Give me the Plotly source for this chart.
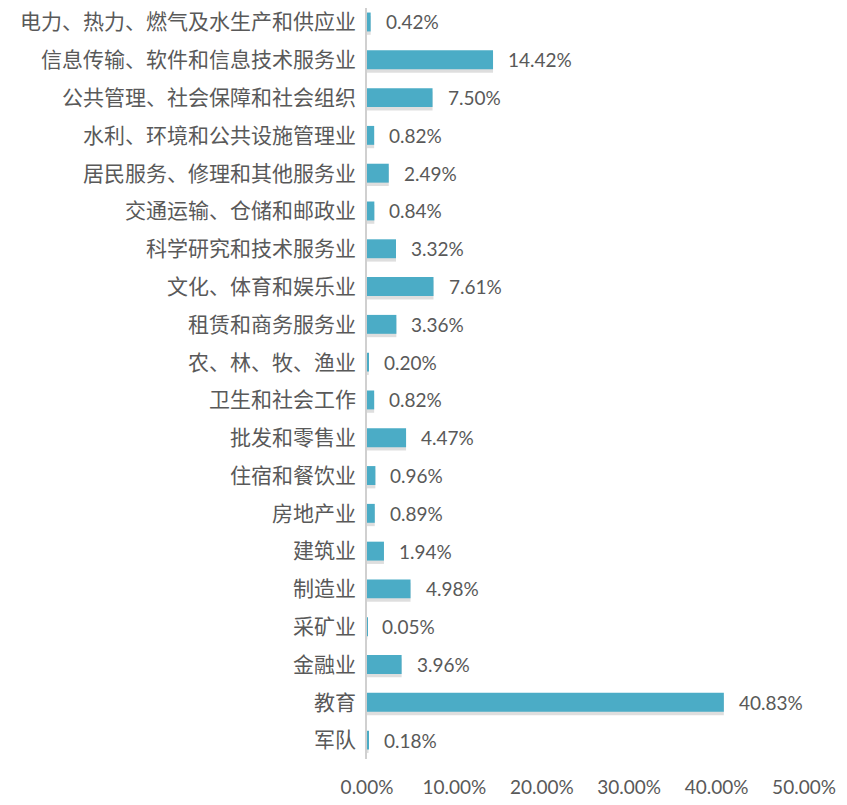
import plotly.graph_objects as go

# categories listed bottom -> top (plotly draws first category at the bottom)
industries = [
    "军队", "教育", "金融业", "采矿业", "制造业", "建筑业", "房地产业",
    "住宿和餐饮业", "批发和零售业", "卫生和社会工作", "农、林、牧、渔业",
    "租赁和商务服务业", "文化、体育和娱乐业", "科学研究和技术服务业",
    "交通运输、仓储和邮政业", "居民服务、修理和其他服务业",
    "水利、环境和公共设施管理业", "公共管理、社会保障和社会组织",
    "信息传输、软件和信息技术服务业", "电力、热力、燃气及水生产和供应业",
]
shares = [
    0.18, 40.83, 3.96, 0.05, 4.98, 1.94, 0.89, 0.96, 4.47, 0.82, 0.20,
    3.36, 7.61, 3.32, 0.84, 2.49, 0.82, 7.50, 14.42, 0.42,
]
tick_vals = [0, 10, 20, 30, 40, 50]
tick_text = ["0.00%", "10.00%", "20.00%", "30.00%", "40.00%", "50.00%"]

grey = "#595959"
bar_color = "#4BACC6"

fig = go.Figure()
# soft drop shadow under each bar (excel style)
fig.add_trace(go.Bar(
    x=shares, y=industries, orientation="h",
    marker=dict(color="rgba(0,0,0,0.13)", line=dict(width=0)),
    width=0.5, offset=-0.34,
    hoverinfo="skip",
))
fig.add_trace(go.Bar(
    x=shares, y=industries, orientation="h",
    marker=dict(color=bar_color, line=dict(width=0)),
    width=0.5, offset=-0.25,
    hoverinfo="x+y",
))

for v, cat in zip(shares, industries):
    fig.add_annotation(
        x=v, y=cat, text=f"{v:.2f}%", showarrow=False,
        xanchor="left", xshift=13,
        font=dict(family="Lato", size=19, color=grey),
    )

# page body has an 8px margin, so the figure is a bit smaller than the window
fig.update_layout(
    width=839, height=797,
    margin=dict(l=359, r=43, t=0, b=46, autoexpand=False),
    paper_bgcolor="white", plot_bgcolor="white",
    showlegend=False,
    barmode="overlay",
    font=dict(family="Noto Sans CJK SC", color=grey),
)
fig.update_xaxes(
    range=[0, 50], tickvals=tick_vals, ticktext=tick_text,
    showgrid=False, zeroline=False, showline=False,
    tickfont=dict(family="Lato", size=19, color=grey),
    ticks="outside", ticklen=11, tickcolor="white",
)
fig.update_yaxes(
    showgrid=False, zeroline=False,
    showline=True, linecolor="#D0D0D0", linewidth=1.5,
    ticks="outside", ticklen=5, tickcolor="white",
    tickfont=dict(family="Noto Sans CJK SC", size=21, color=grey),
    range=[-0.5, len(industries) - 0.63],
)

fig.write_html("out.html")
